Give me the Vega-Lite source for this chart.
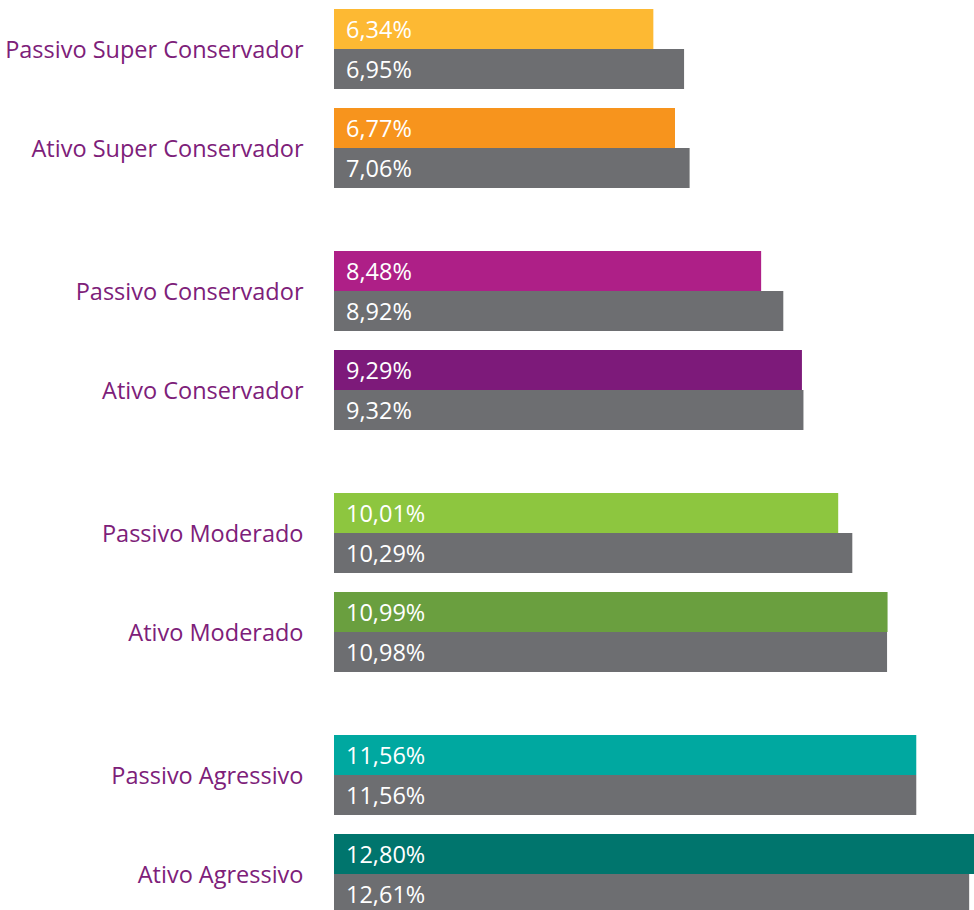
{
  "$schema": "https://vega.github.io/schema/vega-lite/v6.json",
  "padding": {"left": 4, "top": 9, "right": 0, "bottom": 0},
  "background": "white",
  "data": {
    "values": [
      {"grupo": "Super Conservador", "perfil": "Passivo Super Conservador", "serie": "Plano", "valor": 0.0634},
      {"grupo": "Super Conservador", "perfil": "Passivo Super Conservador", "serie": "Referência", "valor": 0.0695},
      {"grupo": "Super Conservador", "perfil": "Ativo Super Conservador", "serie": "Plano", "valor": 0.0677},
      {"grupo": "Super Conservador", "perfil": "Ativo Super Conservador", "serie": "Referência", "valor": 0.0706},
      {"grupo": "Conservador", "perfil": "Passivo Conservador", "serie": "Plano", "valor": 0.0848},
      {"grupo": "Conservador", "perfil": "Passivo Conservador", "serie": "Referência", "valor": 0.0892},
      {"grupo": "Conservador", "perfil": "Ativo Conservador", "serie": "Plano", "valor": 0.0929},
      {"grupo": "Conservador", "perfil": "Ativo Conservador", "serie": "Referência", "valor": 0.0932},
      {"grupo": "Moderado", "perfil": "Passivo Moderado", "serie": "Plano", "valor": 0.1001},
      {"grupo": "Moderado", "perfil": "Passivo Moderado", "serie": "Referência", "valor": 0.1029},
      {"grupo": "Moderado", "perfil": "Ativo Moderado", "serie": "Plano", "valor": 0.1099},
      {"grupo": "Moderado", "perfil": "Ativo Moderado", "serie": "Referência", "valor": 0.1098},
      {"grupo": "Agressivo", "perfil": "Passivo Agressivo", "serie": "Plano", "valor": 0.1156},
      {"grupo": "Agressivo", "perfil": "Passivo Agressivo", "serie": "Referência", "valor": 0.1156},
      {"grupo": "Agressivo", "perfil": "Ativo Agressivo", "serie": "Plano", "valor": 0.1280},
      {"grupo": "Agressivo", "perfil": "Ativo Agressivo", "serie": "Referência", "valor": 0.1261}
    ]
  },
  "facet": {
    "row": {
      "field": "grupo",
      "type": "nominal",
      "sort": ["Super Conservador", "Conservador", "Moderado", "Agressivo"],
      "header": null,
      "title": null
    }
  },
  "spacing": {"row": 63},
  "spec": {
    "width": 640,
    "height": 179,
    "encoding": {
      "y": {
        "field": "perfil",
        "type": "nominal",
        "sort": null,
        "scale": {"paddingInner": 0.1919, "paddingOuter": 0},
        "axis": {
          "title": null,
          "ticks": false,
          "domain": false,
          "labelFontSize": 23.5,
          "labelColor": "#7D2079",
          "labelPadding": 31,
          "labelLimit": 0,
          "labelFont": "Open Sans",
          "minExtent": 329,
          "maxExtent": 329,
          "labelOffset": 2
        }
      },
      "yOffset": {
        "field": "serie",
        "type": "nominal",
        "sort": ["Plano", "Referência"],
        "scale": {"paddingInner": 0, "paddingOuter": 0}
      }
    },
    "layer": [
      {
        "mark": {"type": "bar", "clip": true},
        "encoding": {
          "x": {
            "field": "valor",
            "type": "quantitative",
            "scale": {"domain": [0, 0.12706], "nice": false, "zero": true},
            "axis": null
          },
          "color": {
            "condition": {"test": "datum.serie === 'Referência'", "value": "#6D6E71"},
            "field": "perfil",
            "type": "nominal",
            "legend": null,
            "scale": {
              "domain": [
                "Passivo Super Conservador", "Ativo Super Conservador",
                "Passivo Conservador", "Ativo Conservador",
                "Passivo Moderado", "Ativo Moderado",
                "Passivo Agressivo", "Ativo Agressivo"
              ],
              "range": [
                "#FDB933", "#F7941D",
                "#AE1F87", "#7D1A7A",
                "#8DC63F", "#6A9F3F",
                "#00A8A0", "#00756D"
              ]
            }
          }
        }
      },
      {
        "mark": {
          "type": "text",
          "align": "left",
          "baseline": "middle",
          "dx": 12,
          "dy": 2,
          "fontSize": 23.5,
          "font": "Open Sans",
          "color": "white"
        },
        "encoding": {
          "x": {"datum": 0, "type": "quantitative"},
          "text": {"field": "valor", "type": "quantitative", "format": ".2%"}
        }
      }
    ]
  },
  "resolve": {"scale": {"y": "independent", "yOffset": "independent"}},
  "config": {
    "font": "Open Sans",
    "view": {"stroke": null},
    "locale": {
      "number": {"decimal": ",", "thousands": ".", "grouping": [3], "currency": ["R$", ""]}
    }
  }
}
